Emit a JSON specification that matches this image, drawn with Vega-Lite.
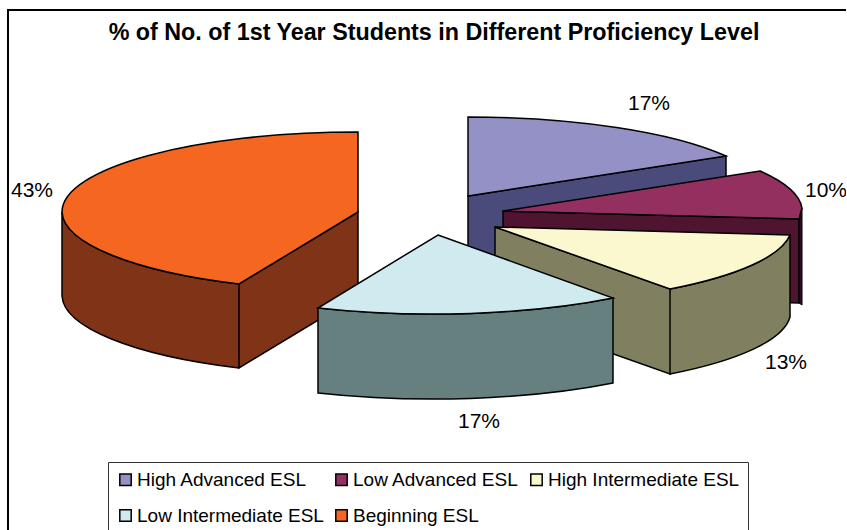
{
"$schema":"https://vega.github.io/schema/vega-lite/v6.json",
"width":846,"height":530,"padding":0,"autosize":{"type":"none"},"background":"white",
"config":{"view":{"stroke":null},"font":"Liberation Sans"},
"title":{"text":"% of No. of 1st Year Students in Different Proficiency Level","font":"Liberation Sans","fontSize":23.3,"fontWeight":"bold","color":"black","anchor":"middle","frame":"group","dx":11,"dy":56,"baseline":"middle","offset":0},
"data":{"values":[
{"segment":"High Advanced ESL","share":0.17},
{"segment":"Low Advanced ESL","share":0.10},
{"segment":"High Intermediate ESL","share":0.13},
{"segment":"Beginning ESL","share":0.43},
{"segment":"Low Intermediate ESL","share":0.17}
]},
"layer":[
{"data":{"values":[{"part":"frame"}]},
 "mark":{"type":"point","filled":false,"size":4,"stroke":"black","strokeWidth":2,"opacity":1,"shape":"M-415,265 L-415,-255 L424,-255"},"encoding":{}},
{"mark":{"type":"point","filled":true,"size":4,"stroke":"black","strokeWidth":1.5,"opacity":1},
 "encoding":{
  "shape":{"field":"segment","type":"nominal","legend":null,"scale":{"domain":["High Advanced ESL","Low Advanced ESL","High Intermediate ESL","Low Intermediate ESL","Beginning ESL"],"range":[
   "M45,-69 L303,-109 L303,-29 L45,11 Z",
   "M80,-54 L376,-46 L376,38 L80,30 Z",
   "M72,-38 L247,24 L247,109 L72,47 Z M247,24 A299,78 0 0 0 367,-30 L367,52 A299,78 0 0 1 247,109 Z",
   "M190,33 A299,79 0 0 1 -105,43 L-105,128 A299,79 0 0 0 190,118 Z",
   "M-65,-53 L-184,19 L-184,103 L-65,31 Z M-184,19 A296,80 0 0 1 -361,-53 L-361,31 A296,80 0 0 0 -184,103 Z"]}},
  "color":{"field":"segment","type":"nominal","legend":null,"scale":{"domain":["High Advanced ESL","Low Advanced ESL","High Intermediate ESL","Low Intermediate ESL","Beginning ESL"],"range":["#4A4A7B","#4F1530","#808060","#667F7F","#7F3317"]}}
 }},
{"transform":[{"filter":"datum.segment === 'Low Advanced ESL'"}],
 "mark":{"type":"point","filled":true,"size":4,"stroke":"black","strokeWidth":1,"opacity":1,"fill":"#2A0D20","shape":"M376,-46 L379,-57 L379,40 L376,38 Z"},"encoding":{}},
{"mark":{"type":"point","filled":true,"size":4,"stroke":"black","strokeWidth":1.5,"opacity":1},
 "encoding":{
  "shape":{"field":"segment","type":"nominal","legend":null,"scale":{"domain":["High Advanced ESL","Low Advanced ESL","High Intermediate ESL","Low Intermediate ESL","Beginning ESL"],"range":[
   "M45,-69 L45,-148 A299,79 0 0 1 303,-109 Z",
   "M80,-54 L337,-94 A299,79 0 0 1 379,-57 L376,-46 Z",
   "M72,-38 L367,-30 A299,78 0 0 1 247,24 Z",
   "M15,-30 L190,33 A299,79 0 0 1 -105,43 Z",
   "M-65,-53 L-65,-133 A296,80 0 0 0 -361,-53 A296,80 0 0 0 -184,19 Z"]}},
  "color":{"field":"segment","type":"nominal","legend":null,"scale":{"domain":["High Advanced ESL","Low Advanced ESL","High Intermediate ESL","Low Intermediate ESL","Beginning ESL"],"range":["#9491C6","#933060","#FBF7CF","#CFEBF0","#F56620"]}}
 }},
{"mark":{"type":"point","filled":true,"size":0,"stroke":"black","strokeWidth":1.5,"opacity":1,"shape":"square"},
 "encoding":{
  "color":{"field":"segment","type":"nominal","scale":{"domain":["High Advanced ESL","Low Advanced ESL","High Intermediate ESL","Low Intermediate ESL","Beginning ESL"],"range":["#9491C6","#933060","#FBF7CF","#CFEBF0","#F56620"]},
   "legend":{"title":null,"orient":"none","legendX":108,"legendY":462,"columns":3,"direction":"horizontal","symbolType":"square","symbolSize":130,"symbolStrokeColor":"black","symbolStrokeWidth":1.5,"labelFont":"Liberation Sans","labelFontSize":19,"labelColor":"black","labelLimit":300,"columnPadding":8,"rowPadding":16,"padding":8,"fillColor":"white","strokeColor":"#333333","symbolOffset":0,"labelOffset":2}}
 }},
{"transform":[{"filter":"datum.segment === 'High Advanced ESL'"}],"mark":{"type":"text","dx":226,"dy":-161,"fontSize":21,"font":"Liberation Sans","color":"black"},"encoding":{"text":{"field":"share","type":"quantitative","format":".0%"}}},
{"transform":[{"filter":"datum.segment === 'Low Advanced ESL'"}],"mark":{"type":"text","dx":403,"dy":-74,"fontSize":21,"font":"Liberation Sans","color":"black"},"encoding":{"text":{"field":"share","type":"quantitative","format":".0%"}}},
{"transform":[{"filter":"datum.segment === 'High Intermediate ESL'"}],"mark":{"type":"text","dx":363,"dy":98,"fontSize":21,"font":"Liberation Sans","color":"black"},"encoding":{"text":{"field":"share","type":"quantitative","format":".0%"}}},
{"transform":[{"filter":"datum.segment === 'Low Intermediate ESL'"}],"mark":{"type":"text","dx":56,"dy":157,"fontSize":21,"font":"Liberation Sans","color":"black"},"encoding":{"text":{"field":"share","type":"quantitative","format":".0%"}}},
{"transform":[{"filter":"datum.segment === 'Beginning ESL'"}],"mark":{"type":"text","dx":-391,"dy":-74,"fontSize":21,"font":"Liberation Sans","color":"black"},"encoding":{"text":{"field":"share","type":"quantitative","format":".0%"}}}
],
"resolve":{"scale":{"shape":"independent","color":"independent"}}
}
